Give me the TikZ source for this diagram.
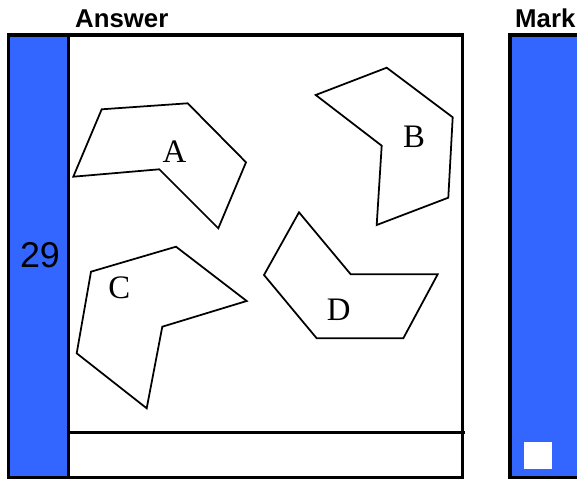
\documentclass[tikz,border=0pt]{standalone}
\usepackage{fontspec}
\setmainfont{Liberation Sans}
\newfontfamily\shapefont{Liberation Serif}
\usepackage{xcolor}
\usepackage{tikz}
\definecolor{markblue}{HTML}{3366FF}

\begin{document}
\begin{tikzpicture}[
    x=0.03cm, y=-0.03cm,
    frame/.style={draw=black, line width=2.8pt},
    outline/.style={draw=black, line width=1.5pt, line join=miter},
    heading/.style={anchor=base west, inner sep=0pt, font=\fontsize{22}{24}\selectfont\bfseries},
    letter/.style={inner sep=0pt, font=\fontsize{28}{30}\selectfont\shapefont}
]
\useasboundingbox (0,0) rectangle (577,479);

% Headings
\node[heading] (answer) at (75,28) {Answer};
\node[heading] (mark) at (515,28) {Mark};

% Number column
\fill[markblue] (8.7,35) rectangle (68.8,477.5);
\draw[frame] (8.7,35) rectangle (68.8,477.5);
\node[inner sep=0pt, font=\fontsize{30.6}{32}\selectfont] (num) at (40,255.5) {29};

% Answer box
\draw[frame] (68.8,35) rectangle (462.3,477.5);
\draw[frame] (68.8,432.7) -- (465,432.7);

% Mark box
\fill[markblue] (510,35) rectangle (578,477.5);
\draw[frame] (578,35) -- (510,35) -- (510,477.5) -- (578,477.5);
\fill[white] (524.3,442.3) rectangle (551.7,469);

% Shapes
\draw[outline] (101.7,109.3) -- (187.7,103.3) -- (246,162.3) -- (218.3,228.3) -- (159.3,169.3) -- (73.3,176.7) -- cycle;
\draw[outline] (315.7,95) -- (386.7,67.7) -- (452.7,117.3) -- (448.3,197.7) -- (376.7,225) -- (381.7,145.7) -- cycle;
\draw[outline] (91,271.7) -- (176,246.7) -- (246.7,301) -- (162.3,326.7) -- (146.7,408.3) -- (76.7,353.3) -- cycle;
\draw[outline] (299,212.3) -- (350.7,274.3) -- (437.7,274.3) -- (403.3,338.3) -- (316.7,338.3) -- (264,275) -- cycle;

% Labels
\node[letter] (labA) at (174.5,152) {A};
\node[letter] (labB) at (414,136.7) {B};
\node[letter] (labC) at (119.3,287.3) {C};
\node[letter] (labD) at (338.7,309.3) {D};

\end{tikzpicture}
\end{document}
